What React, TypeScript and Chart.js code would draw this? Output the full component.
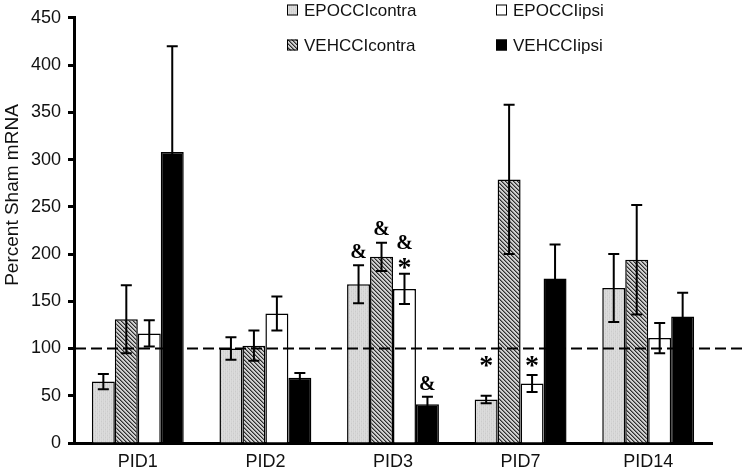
import React, { useEffect, useRef } from 'react';
import { Chart, registerables } from 'chart.js';

Chart.register(...registerables);

// ---- data ----
const categories = ['PID1', 'PID2', 'PID3', 'PID7', 'PID14'];
const seriesNames = ['EPOCCIcontra', 'VEHCCIcontra', 'EPOCCIipsi', 'VEHCCIipsi'];

const epoContra = [65, 100, 168, 46, 164];
const epoContraErr = [8, 12, 20, 4, 36];
const vehContra = [131, 103, 197, 279, 194];
const vehContraErr = [36, 16, 15, 79, 58];
const epoIpsi = [116, 137, 163, 63, 111];
const epoIpsiErr = [14, 18, 16, 9, 16];
const vehIpsi = [308, 69, 41, 174, 134];
const vehIpsiErr = [112, 5, 8, 36, 25];

const yMin = 0;
const yMax = 450;
const yStep = 50;
const shamLevel = 100;
const yTitle = 'Percent Sham mRNA';

// significance marks: category index, series index, symbol, value at which the symbol sits
const markCategory = [2, 2, 2, 2, 2, 3, 3];
const markSeries = [0, 1, 2, 2, 3, 0, 2];
const markText = ['&', '&', '&', '*', '&', '*', '*'];
const markValue = [203, 228, 213, 190, 64, 86, 86];

const seriesValues = [epoContra, vehContra, epoIpsi, vehIpsi];
const seriesErrors = [epoContraErr, vehContraErr, epoIpsiErr, vehIpsiErr];

const FONT = '"Liberation Sans", Arial, sans-serif';

function makePattern(kind: string): CanvasPattern | string {
  const c = document.createElement('canvas');
  c.width = 4;
  c.height = 4;
  const g = c.getContext('2d');
  if (!g) return '#ccc';
  if (kind === 'light') {
    g.fillStyle = '#d4d4d4';
    g.fillRect(0, 0, 4, 4);
    g.fillStyle = '#dcdcdc';
    g.fillRect(0, 0, 1, 4);
    g.fillRect(2, 0, 1, 4);
    g.fillStyle = '#cbcbcb';
    g.fillRect(1, 1, 1, 1);
    g.fillRect(3, 3, 1, 1);
  } else {
    for (let x = 0; x < 4; x++) {
      for (let y = 0; y < 4; y++) {
        const d = (x - y + 8) % 4;
        g.fillStyle = d === 0 ? '#2e2e2e' : d === 1 ? '#808080' : '#d0d0d0';
        g.fillRect(x, y, 1, 1);
      }
    }
  }
  const p = g.createPattern(c, 'repeat');
  return p || '#ccc';
}

export default function App() {
  const ref = useRef<HTMLCanvasElement | null>(null);

  useEffect(() => {
    document.body.style.margin = '0';
    const canvas = ref.current;
    if (!canvas) return;

    const fills = [makePattern('light'), makePattern('hatch'), '#ffffff', '#000000'];

    const overlay = {
      id: 'overlay',
      afterDatasetsDraw(chart: any) {
        const { ctx, chartArea } = chart;
        const y = chart.scales.y;
        ctx.save();

        // dashed sham line
        const yy = y.getPixelForValue(shamLevel);
        ctx.strokeStyle = '#000';
        ctx.lineWidth = 1.8;
        ctx.setLineDash([11, 5]);
        ctx.beginPath();
        ctx.moveTo(chartArea.left + 1, yy);
        ctx.lineTo(chart.width, yy);
        ctx.stroke();
        ctx.setLineDash([]);

        // error bars
        ctx.lineWidth = 2;
        chart.data.datasets.forEach((ds: any, di: number) => {
          const meta = chart.getDatasetMeta(di);
          meta.data.forEach((bar: any, i: number) => {
            const v = seriesValues[di][i];
            const e = seriesErrors[di][i];
            const x = bar.x;
            const t = y.getPixelForValue(v + e);
            const b = y.getPixelForValue(v - e);
            ctx.beginPath();
            ctx.moveTo(x, t);
            ctx.lineTo(x, b);
            ctx.moveTo(x - 5.5, t);
            ctx.lineTo(x + 5.5, t);
            ctx.moveTo(x - 5.5, b);
            ctx.lineTo(x + 5.5, b);
            ctx.stroke();
          });
        });

        // significance marks, centred on their anchor value
        ctx.fillStyle = '#000';
        ctx.textAlign = 'center';
        ctx.textBaseline = 'alphabetic';
        markText.forEach((txt, k) => {
          const size = txt === '*' ? 28 : 20;
          ctx.font = `bold ${size}px "Liberation Serif", "Times New Roman", serif`;
          const m = ctx.measureText(txt);
          const bar = chart.getDatasetMeta(markSeries[k]).data[markCategory[k]];
          const cy = y.getPixelForValue(markValue[k]);
          const base = cy - (m.actualBoundingBoxDescent - m.actualBoundingBoxAscent) / 2;
          ctx.fillText(txt, bar.x, base);
        });

        // legend (2 x 2)
        ctx.font = `17px ${FONT}`;
        ctx.textAlign = 'left';
        ctx.textBaseline = 'middle';
        const colX = [287, 496];
        const rowY = [10, 45];
        seriesNames.forEach((name, s) => {
          const bx = colX[s < 2 ? 0 : 1];
          const by = rowY[s % 2];
          ctx.fillStyle = fills[s] as any;
          ctx.fillRect(bx, by - 5.5, 11, 11);
          ctx.strokeStyle = '#000';
          ctx.lineWidth = 1;
          ctx.strokeRect(bx + 0.5, by - 5, 10, 10);
          ctx.fillStyle = '#111';
          ctx.fillText(name, bx + 17, by + 1);
        });

        // y axis title
        ctx.save();
        ctx.translate(13, 195);
        ctx.rotate(-Math.PI / 2);
        ctx.font = `19px ${FONT}`;
        ctx.textAlign = 'center';
        ctx.textBaseline = 'middle';
        ctx.fillStyle = '#111';
        ctx.fillText(yTitle, 0, 0);
        ctx.restore();

        ctx.restore();
      },
    };

    const chart = new Chart(canvas, {
      type: 'bar',
      data: {
        labels: categories,
        datasets: seriesNames.map((name, s) => ({
          label: name,
          data: seriesValues[s],
          backgroundColor: fills[s] as any,
          borderColor: '#000',
          borderWidth: 1.5,
          categoryPercentage: 0.72,
          barPercentage: 1.0,
        })),
      },
      options: {
        responsive: true,
        maintainAspectRatio: false,
        animation: false,
        events: [],
        layout: { autoPadding: false, padding: { top: 7, right: 30, left: 0, bottom: 0 } },
        plugins: {
          legend: { display: false },
          tooltip: { enabled: false },
          title: { display: false },
        },
        scales: {
          x: {
            grid: { display: true, drawOnChartArea: false, drawTicks: false, color: 'rgba(0,0,0,0)' },
            border: { display: true, color: '#000', width: 3 },
            ticks: { color: '#111', font: { size: 18, family: FONT }, padding: 8 },
            afterFit: (scale: any) => { scale.height = 29; },
          },
          y: {
            min: yMin,
            max: yMax,
            ticks: {
              stepSize: yStep,
              color: '#111',
              font: { size: 18, family: FONT },
              padding: 7,
            },
            grid: {
              display: true,
              drawOnChartArea: false,
              drawTicks: true,
              tickLength: 6,
              tickWidth: 3,
              tickColor: '#000',
              color: '#000',
            },
            border: { display: true, color: '#000', width: 3 },
            afterFit: (scale: any) => { scale.width = 74; },
          },
        },
      },
      plugins: [overlay],
    });

    return () => chart.destroy();
  }, []);

  return (
    <div style={{ position: 'absolute', left: 0, top: 0, width: 742, height: 472 }}>
      <canvas ref={ref} />
    </div>
  );
}
